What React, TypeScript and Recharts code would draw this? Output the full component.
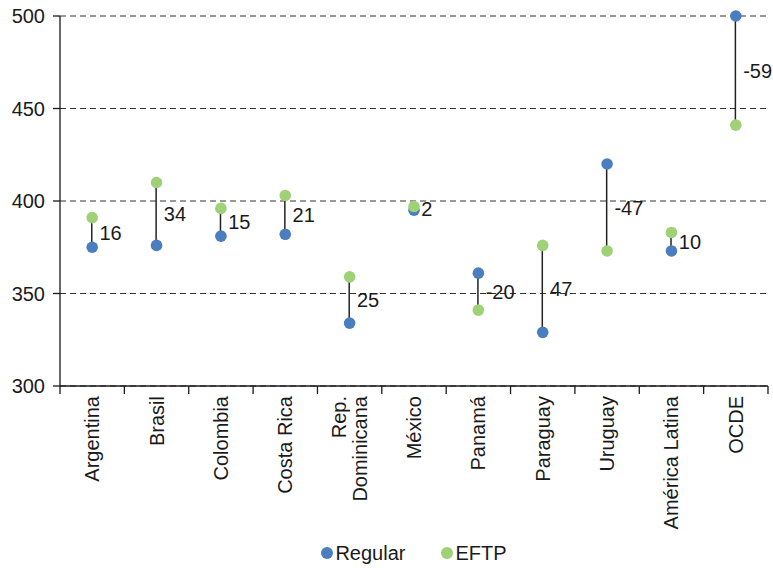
import React from "react";
import {
  ComposedChart,
  Bar,
  Line,
  XAxis,
  YAxis,
  CartesianGrid,
  Legend,
  LabelList,
} from "recharts";

const categories = [
  "Argentina",
  "Brasil",
  "Colombia",
  "Costa Rica",
  "Rep.\nDominicana",
  "México",
  "Panamá",
  "Paraguay",
  "Uruguay",
  "América Latina",
  "OCDE",
];
const regular = [375, 376, 381, 382, 334, 395, 361, 329, 420, 373, 500];
const eftp = [391, 410, 396, 403, 359, 397, 341, 376, 373, 383, 441];
const gapLabels = [16, 34, 15, 21, 25, 2, -20, 47, -47, 10, -59];
const yTicks = [300, 350, 400, 450, 500];

const BLUE = "#4a7ebf";
const GREEN = "#9fd276";
const INK = "#1a1a1a";
const FONT = 20;

const data = categories.map((name, i) => ({
  x: i + 0.5,
  name,
  regular: regular[i],
  eftp: eftp[i],
  range: [Math.min(regular[i], eftp[i]), Math.max(regular[i], eftp[i])],
  gap: gapLabels[i],
}));

// ticks at category edges (integers) and category centres (halves)
const xTicks: number[] = [];
for (let i = 0; i <= categories.length * 2; i++) xTicks.push(i / 2);

function CategoryTick(props: any) {
  const { x, y, payload } = props;
  const v = payload.value as number;
  if (Number.isInteger(v)) {
    return <line x1={x} y1={y} x2={x} y2={y + 8} stroke={INK} strokeWidth={1.3} />;
  }
  const name = categories[Math.floor(v)] ?? "";
  const lines = name.split("\n");
  const ty = y + 10;
  const lh = 21;
  return (
    <text
      x={x}
      y={ty}
      transform={`rotate(-90, ${x}, ${ty})`}
      textAnchor="end"
      fontSize={FONT}
      fill={INK}
    >
      {lines.map((l, i) => (
        <tspan key={i} x={x} dy={i === 0 ? 0.35 * FONT - ((lines.length - 1) * lh) / 2 : lh}>
          {l}
        </tspan>
      ))}
    </text>
  );
}

function LegendBox() {
  const items = [
    { label: "Regular", color: BLUE },
    { label: "EFTP", color: GREEN },
  ];
  return (
    <div
      style={{
        height: 30,
        display: "flex",
        justifyContent: "center",
        alignItems: "center",
        fontSize: FONT,
        color: INK,
      }}
    >
      {items.map((it, i) => (
        <span
          key={it.label}
          style={{ display: "flex", alignItems: "center", marginLeft: i ? 36 : 0 }}
        >
          <span
            style={{
              width: 12,
              height: 12,
              borderRadius: 6,
              background: it.color,
              marginRight: 2,
              display: "inline-block",
            }}
          />
          {it.label}
        </span>
      ))}
    </div>
  );
}

export default function App() {
  return (
    <div
      style={{
        position: "absolute",
        left: 0,
        top: 0,
        fontFamily: "'Liberation Sans', Arial, sans-serif",
      }}
    >
      <ComposedChart
        width={773}
        height={568}
        data={data}
        margin={{ top: 16, right: 5, bottom: 0, left: 0 }}
      >
        <CartesianGrid
          vertical={false}
          stroke="#333"
          strokeDasharray="6 4"
          strokeWidth={1}
        />
        <XAxis
          dataKey="x"
          type="number"
          domain={[0, categories.length]}
          ticks={xTicks}
          interval={0}
          tickLine={false}
          tickSize={0}
          tickMargin={0}
          height={152}
          axisLine={{ stroke: INK, strokeWidth: 1.3 }}
          tick={<CategoryTick />}
        />
        <YAxis
          domain={[300, 500]}
          ticks={yTicks}
          width={60}
          tickSize={7}
          tickMargin={8}
          axisLine={{ stroke: INK, strokeWidth: 1.3 }}
          tickLine={{ stroke: INK, strokeWidth: 1.3 }}
          tick={{ fontSize: FONT, fill: INK }}
        />
        <Bar dataKey="range" barSize={1.5} fill="#222" isAnimationActive={false}>
          <LabelList dataKey="gap" position="right" offset={7} fontSize={FONT} fill={INK} />
        </Bar>
        <Line
          dataKey="regular"
          stroke="none"
          dot={{ r: 5.8, fill: BLUE, stroke: BLUE, strokeWidth: 0 }}
          activeDot={false}
          isAnimationActive={false}
        />
        <Line
          dataKey="eftp"
          stroke="none"
          dot={{ r: 5.8, fill: GREEN, stroke: GREEN, strokeWidth: 0 }}
          activeDot={false}
          isAnimationActive={false}
        />
        <Legend
          verticalAlign="bottom"
          content={() => <LegendBox />}
          wrapperStyle={{ left: 60, width: 708 }}
        />
      </ComposedChart>
    </div>
  );
}
